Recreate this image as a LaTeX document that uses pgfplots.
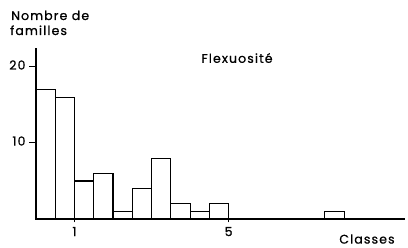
\documentclass[border=0pt]{standalone}
\usepackage{fontspec}
\setmainfont{Poppins}[LetterSpace=9, FakeBold=0.8]
\usepackage{pgfplots}
\pgfplotsset{compat=1.18}
\begin{document}
\begin{tikzpicture}
\begin{axis}[
  name=ax,
  at={(0pt,0pt)}, anchor=south west,
  scale only axis, width=369pt, height=171pt,
  xmin=0, xmax=9.58, ymin=0, ymax=22.5,
  axis lines*=left,
  axis line style={-, line width=1.1pt},
  xtick={1,5}, ytick={10,20},
  major tick length=7pt,
  ytick align=outside,
  xtick align=center,
  tick style={line width=1pt, black},
  tick label style={font=\fontsize{12.5}{14}\selectfont},
  /pgf/number format/assume math mode=true,
  xticklabel style={yshift=-1pt},
  yticklabel style={yshift=2pt},
  clip=false,
]
\addplot[ybar interval, fill=white, draw=black, line width=1.1pt] coordinates {
(0,17) (0.5,16) (1,5) (1.5,6) (2,1) (2.5,4) (3,8) (3.5,2) (4,1) (4.5,2) (5,2)};
\addplot[ybar interval, fill=white, draw=black, line width=1.1pt] coordinates {
(7.5,1) (8,1)};
\end{axis}
\begin{scope}[shift={(ax.south west)}, x=1pt, y=1pt]
\node[anchor=base west, inner sep=0, font=\fontsize{12.5}{14}\selectfont] at (-25,199) {Nombre de};
\node[anchor=base west, inner sep=0, font=\fontsize{12.5}{14}\selectfont] at (-26,184) {familles};
\node[inner sep=0, font=\fontsize{12.5}{14}\selectfont] at (201,161) {Flexuosité};
\node[inner sep=0, font=\fontsize{12.5}{14}\selectfont] at (331,-20) {Classes};
\pgfresetboundingbox
\path[use as bounding box] (-36,-29) rectangle (372,219);
\end{scope}
\end{tikzpicture}
\end{document}
